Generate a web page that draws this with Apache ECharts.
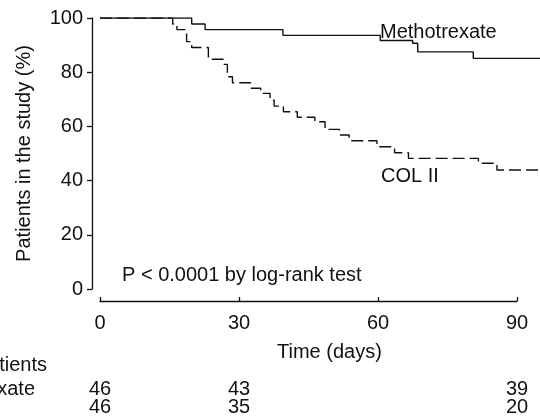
<!DOCTYPE html>
<html>
<head>
<meta charset="utf-8">
<script src="https://cdn.jsdelivr.net/npm/echarts@6/dist/echarts.min.js"></script>
<style>
  html, body { margin: 0; padding: 0; background: #fff; }
  #chart-dom-1 { width: 540px; height: 419px; }
</style>
</head>
<body>
<div id="chart-dom-1"></div>
<script>
// Kaplan-Meier steps (day, % still in study)
const mtxDays = [0, 19.8, 22.7, 39.5, 60.5, 67.5, 68.6, 80.6, 95]
const mtxPct = [100, 97.8, 95.7, 93.6, 91.7, 90.7, 87.5, 85.1, 85.1]
const colDays = [0, 15.7, 16.6, 18.7, 19.8, 23.4, 26.6, 27.5, 28.6, 32.5, 34.7, 36.7, 37.6, 39.6, 42.6, 46.4, 48.6, 51.7, 53.8, 59.8, 63.6, 66.6, 81.7, 85.7, 95]
const colPct = [100, 97.8, 95.7, 91.3, 89.1, 84.8, 82.9, 78.3, 76.1, 74.1, 72.2, 69.7, 67.5, 65.4, 63.4, 61.7, 58.9, 56.8, 54.7, 52.5, 50.3, 48.2, 46.4, 43.9, 43.9]

// patients at risk
const riskDays = [0, 30, 90]
const riskMtx = [46, 43, 39]
const riskCol = [46, 35, 20]

const yTicks = [0, 20, 40, 60, 80, 100]
const xTicks = [0, 30, 60, 90]

const FONT = 'Liberation Sans, Arial, sans-serif'
const INK = '#111'

function pairs(xs, ys) {
  return xs.map((x, i) => [x, ys[i]])
}
function riskLabel(list) {
  return function (v) {
    const i = riskDays.indexOf(v)
    return i < 0 ? '' : String(list[i])
  }
}
function riskAxis(offset, list) {
  return {
    type: 'value',
    gridIndex: 0,
    position: 'bottom',
    min: 0,
    max: 90,
    interval: 30,
    offset: offset,
    axisLine: { show: false, onZero: false },
    axisTick: { show: false },
    splitLine: { show: false },
    axisLabel: {
      margin: 0,
      color: INK,
      fontFamily: FONT,
      fontSize: 20,
      formatter: riskLabel(list),
    },
  }
}

let chartInstance = null
function initChart() {
  if (chartInstance) {
    chartInstance.dispose()
  }
  const chartDom = document.getElementById('chart-dom-1')
  chartInstance = echarts.init(chartDom)
  let option

  option = {
    animation: false,
    backgroundColor: '#fff',
    // grid 0 carries the visible axes (0-90 days), grid 1 the curves that run on to day 95
    grid: [
      { left: 100, right: 23, top: 18, bottom: 130 },
      { left: 100, right: 0, top: 18, bottom: 130 },
    ],
    xAxis: [
      {
        type: 'value',
        gridIndex: 0,
        min: 0,
        max: 90,
        interval: 30,
        offset: 12,
        axisLine: { show: true, onZero: false, lineStyle: { color: INK, width: 1.3 } },
        axisTick: { show: true, inside: true, length: 4, lineStyle: { color: INK, width: 1.3 } },
        splitLine: { show: false },
        axisLabel: {
          margin: 12,
          color: INK,
          fontFamily: FONT,
          fontSize: 20,
          customValues: xTicks,
        },
      },
      riskAxis(90, riskMtx),
      riskAxis(108.5, riskCol),
      {
        type: 'value',
        gridIndex: 1,
        min: 0,
        max: 95,
        show: false,
      },
    ],
    yAxis: [
      {
        type: 'value',
        gridIndex: 0,
        min: 0,
        max: 100,
        interval: 20,
        offset: 8,
        name: 'Patients in the study (%)',
        nameLocation: 'middle',
        nameGap: 58,
        nameTextStyle: { color: INK, fontFamily: FONT, fontSize: 20 },
        axisLine: { show: true, onZero: false, lineStyle: { color: INK, width: 1.3 } },
        axisTick: { show: true, length: 5, lineStyle: { color: INK, width: 1.3 } },
        splitLine: { show: false },
        axisLabel: {
          margin: 9,
          color: INK,
          fontFamily: FONT,
          fontSize: 20,
          customValues: yTicks,
        },
      },
      {
        type: 'value',
        gridIndex: 1,
        min: 0,
        max: 100,
        show: false,
      },
    ],
    graphic: [
      {
        type: 'text',
        left: 380,
        top: 22,
        style: { text: 'Methotrexate', fill: INK, font: '20px ' + FONT },
      },
      {
        type: 'text',
        left: 381,
        top: 166,
        style: { text: 'COL II', fill: INK, font: '20px ' + FONT },
      },
      {
        type: 'text',
        left: 122,
        top: 265,
        style: { text: 'P < 0.0001 by log-rank test', fill: INK, font: '20px ' + FONT },
      },
      {
        type: 'text',
        left: 277,
        top: 342,
        style: { text: 'Time (days)', fill: INK, font: '20px ' + FONT },
      },
      {
        type: 'text',
        x: 47,
        y: 365,
        style: { text: 'Patients', fill: INK, font: '20px ' + FONT, align: 'right', verticalAlign: 'middle' },
      },
      {
        type: 'text',
        x: 35,
        y: 389,
        style: { text: 'Methotrexate', fill: INK, font: '20px ' + FONT, align: 'right', verticalAlign: 'middle' },
      },
    ],
    series: [
      {
        name: 'Methotrexate',
        type: 'line',
        xAxisIndex: 3,
        yAxisIndex: 1,
        data: pairs(mtxDays, mtxPct),
        step: 'end',
        symbol: 'none',
        lineStyle: { color: INK, width: 1.4 },
      },
      {
        name: 'COL II',
        type: 'line',
        xAxisIndex: 3,
        yAxisIndex: 1,
        data: pairs(colDays, colPct),
        step: 'end',
        symbol: 'none',
        lineStyle: { color: INK, width: 1.4, type: [12, 5] },
      },
    ],
  }

  option && chartInstance.setOption(option)
}

initChart()
</script>
</body>
</html>
